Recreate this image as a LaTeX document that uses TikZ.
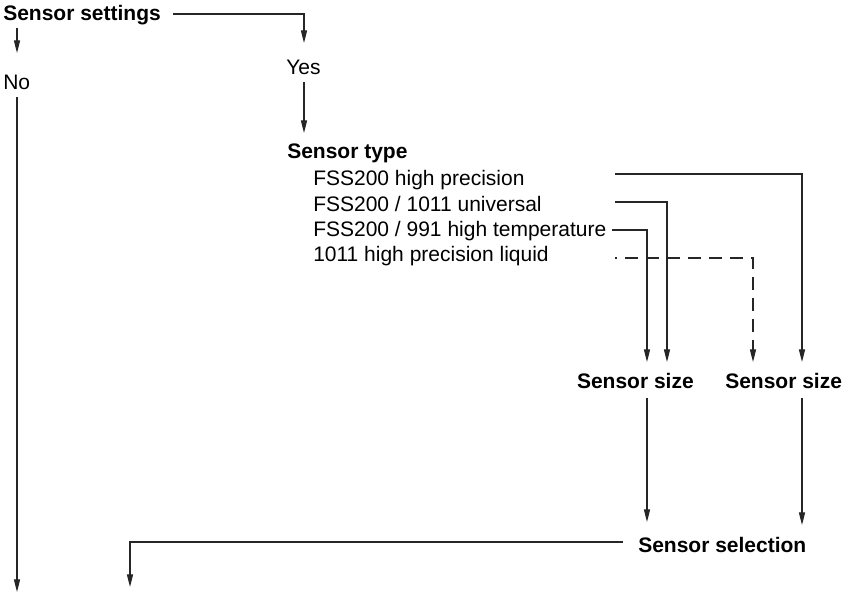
\documentclass[tikz,border=0pt]{standalone}
\usepackage{fontspec}
\setmainfont{Liberation Sans}
\usetikzlibrary{arrows.meta}
\begin{document}
\begin{tikzpicture}[x=0.75pt,y=-0.75pt,
  every node/.style={inner sep=0pt, anchor=base west},
  lbl/.style={font=\fontsize{15.75}{18}\selectfont},
  hd/.style={font=\fontsize{15.75}{18}\selectfont\bfseries},
  conn/.style={line width=0.8pt, draw=black!85},
  arr/.style={conn, -{Triangle[length=9.5pt,width=4.6pt]}},
  dsh/.style={dash pattern=on 9.75pt off 6pt, dash phase=8pt}]
\useasboundingbox (0,0) rectangle (847,594);
% texts
\node[hd]  (settings) at (3,20)    {Sensor settings};
\node[lbl] (no)       at (3,89.5)  {No};
\node[lbl] (yes)      at (286,74.5) {Yes};
\node[hd]  (type)     at (287,158) {Sensor type};
\node[lbl] (t1) at (313,185)   {FSS200 high precision};
\node[lbl] (t2) at (313,211.5) {FSS200 / 1011 universal};
\node[lbl] (t3) at (313,236.5) {FSS200 / 991 high temperature};
\node[lbl] (t4) at (313,261.5) {1011 high precision liquid};
\node[hd, anchor=base east] (size1) at (694,388) {Sensor size};
\node[hd] (size2) at (725,388) {Sensor size};
\node[hd] (sel)   at (638,552) {Sensor selection};
% connector ends
\coordinate (setR) at (173,14);
\coordinate (yesIn) at (304,43);
\coordinate (setD) at (17,28);
\coordinate (noIn) at (17,53);
\coordinate (noD) at (17,97);
\coordinate (noEnd) at (17,592);
\coordinate (yesD) at (304,82);
\coordinate (typeIn) at (304,133);
\coordinate (t1R) at (615,174);
\coordinate (t2R) at (615,202);
\coordinate (t3R) at (612,230);
\coordinate (t4R) at (615,258);
\coordinate (s1a) at (647,362);
\coordinate (s1b) at (667,362);
\coordinate (s2a) at (753,362);
\coordinate (s2b) at (802,362);
\coordinate (s1D) at (647,398);
\coordinate (s2D) at (802,398);
\coordinate (selInA) at (647,522);
\coordinate (selInB) at (802,525);
\coordinate (selL) at (623,542);
\coordinate (selEnd) at (130,587);
% connectors
\draw[arr] (setR) -| (yesIn);
\draw[arr] (setD) -- (noIn);
\draw[arr] (noD) -- (noEnd);
\draw[arr] (yesD) -- (typeIn);
\draw[arr] (t1R) -| (s2b);
\draw[arr] (t2R) -| (s1b);
\draw[arr] (t3R) -| (s1a);
\draw[arr, dsh] (t4R) -| (s2a);
\draw[arr] (s1D) -- (selInA);
\draw[arr] (s2D) -- (selInB);
\draw[arr] (selL) -| (selEnd);
\end{tikzpicture}
\end{document}
